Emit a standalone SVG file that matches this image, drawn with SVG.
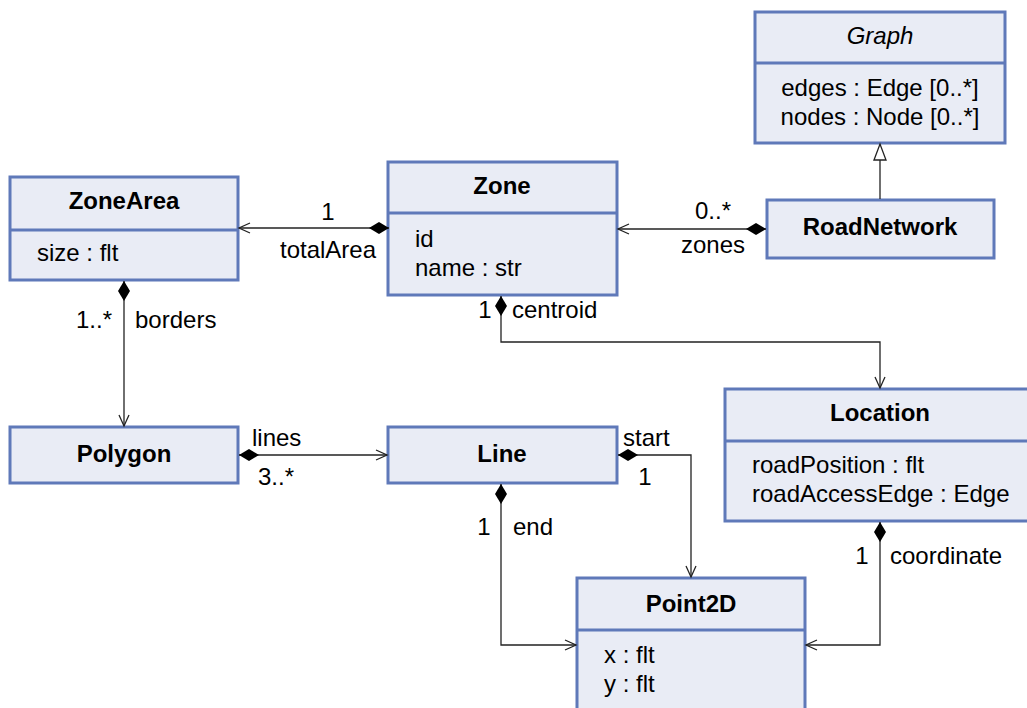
<svg xmlns="http://www.w3.org/2000/svg" width="1027" height="708" viewBox="0 0 1027 708">
  <style>
    .box { fill: #e9ecf5; stroke: #5f79b9; stroke-width: 3; }
    .sep { stroke: #5f79b9; stroke-width: 3; }
    text { font-family: "Liberation Sans", Arial, sans-serif; font-size: 24px; fill: #000; }
    .title { font-weight: bold; text-anchor: middle; }
    .mid { text-anchor: middle; }
    .end { text-anchor: end; }
    .conn { fill: none; stroke: #222; stroke-width: 1.3; }
  </style>
  <defs>
    <marker id="open" markerWidth="14" markerHeight="14" refX="12" refY="6" orient="auto" markerUnits="userSpaceOnUse">
      <path d="M1,1 L12,6 L1,11" fill="none" stroke="#222" stroke-width="1.3"/>
    </marker>
    <marker id="diamond" markerWidth="22" markerHeight="14" refX="0" refY="7" orient="auto" markerUnits="userSpaceOnUse">
      <path d="M0,7 L10,1 L20,7 L10,13 Z" fill="#000"/>
    </marker>
    <marker id="hollow" markerWidth="20" markerHeight="16" refX="17" refY="8" orient="auto" markerUnits="userSpaceOnUse">
      <path d="M1,2 L17,8 L1,14 Z" fill="#fff" stroke="#222" stroke-width="1.3"/>
    </marker>
  </defs>

  <g id="Graph">
    <rect class="box" x="755" y="12" width="250" height="131"/>
    <line class="sep" x1="755" y1="63" x2="1005" y2="63"/>
    <text class="mid" x="880" y="44" font-style="italic">Graph</text>
    <text class="mid" x="880" y="96">edges : Edge [0..*]</text>
    <text class="mid" x="880" y="125">nodes : Node [0..*]</text>
  </g>

  <g id="ZoneArea">
    <rect class="box" x="10" y="177" width="228" height="103"/>
    <line class="sep" x1="10" y1="230" x2="238" y2="230"/>
    <text class="title" x="124" y="209">ZoneArea</text>
    <text x="37" y="261">size : flt</text>
  </g>

  <g id="Zone">
    <rect class="box" x="388" y="162" width="229" height="133"/>
    <line class="sep" x1="388" y1="213" x2="617" y2="213"/>
    <text class="title" x="502" y="194">Zone</text>
    <text x="415" y="247">id</text>
    <text x="415" y="276">name : str</text>
  </g>

  <g id="RoadNetwork">
    <rect class="box" x="767" y="200" width="227" height="58"/>
    <text class="title" x="880" y="235">RoadNetwork</text>
  </g>

  <g id="Polygon">
    <rect class="box" x="10" y="427" width="228" height="56"/>
    <text class="title" x="124" y="462">Polygon</text>
  </g>

  <g id="Line">
    <rect class="box" x="388" y="427" width="229" height="56"/>
    <text class="title" x="502" y="462">Line</text>
  </g>

  <g id="Location">
    <rect class="box" x="725" y="389" width="310" height="132"/>
    <line class="sep" x1="725" y1="441" x2="1035" y2="441"/>
    <text class="title" x="880" y="421">Location</text>
    <text x="752" y="473">roadPosition : flt</text>
    <text x="752" y="502">roadAccessEdge : Edge</text>
  </g>

  <g id="Point2D">
    <rect class="box" x="577" y="578" width="228" height="140"/>
    <line class="sep" x1="577" y1="630" x2="805" y2="630"/>
    <text class="title" x="691" y="612">Point2D</text>
    <text x="604" y="663">x : flt</text>
    <text x="604" y="692">y : flt</text>
  </g>

  <!-- associations, drawn over the boxes so the end symbols stay visible -->
  <g id="connectors">
    <path class="conn" d="M389,228 L239,228" marker-start="url(#diamond)" marker-end="url(#open)"/>
    <path class="conn" d="M766,229 L618,229" marker-start="url(#diamond)" marker-end="url(#open)"/>
    <path class="conn" d="M880,199 L880,144" marker-end="url(#hollow)"/>
    <path class="conn" d="M124,281 L124,426" marker-start="url(#diamond)" marker-end="url(#open)"/>
    <path class="conn" d="M239,455 L387,455" marker-start="url(#diamond)" marker-end="url(#open)"/>
    <path class="conn" d="M618,455 L691,455 L691,577" marker-start="url(#diamond)" marker-end="url(#open)"/>
    <path class="conn" d="M501,484 L501,645 L576,645" marker-start="url(#diamond)" marker-end="url(#open)"/>
    <path class="conn" d="M501,296 L501,342 L880,342 L880,388" marker-start="url(#diamond)" marker-end="url(#open)"/>
    <path class="conn" d="M880,522 L880,645 L806,645" marker-start="url(#diamond)" marker-end="url(#open)"/>

    <text class="mid" x="328" y="220">1</text>
    <text class="mid" x="328" y="258">totalArea</text>
    <text class="mid" x="713" y="219">0..*</text>
    <text class="mid" x="713" y="253">zones</text>
    <text class="end" x="112" y="328">1..*</text>
    <text x="135" y="328">borders</text>
    <text x="252" y="446">lines</text>
    <text x="258" y="485">3..*</text>
    <text x="623" y="446">start</text>
    <text class="mid" x="645" y="485">1</text>
    <text class="mid" x="484" y="535">1</text>
    <text x="513" y="535">end</text>
    <text class="mid" x="485" y="318">1</text>
    <text x="512" y="318">centroid</text>
    <text class="mid" x="862" y="564">1</text>
    <text x="890" y="564">coordinate</text>
  </g>
</svg>
